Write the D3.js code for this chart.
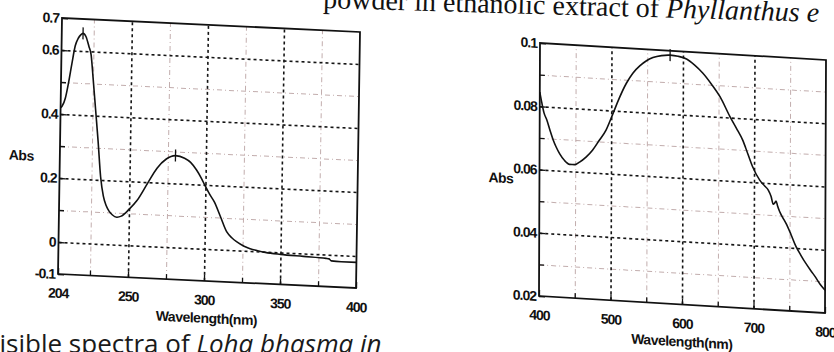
<!DOCTYPE html>
<html>
<head>
<meta charset="utf-8">
<script src="https://cdn.jsdelivr.net/npm/d3@7"></script>
<style>
  body { margin: 0; background: #fff; }
  svg { display: block; }
  .axis text { font-family: "Liberation Sans", Arial, sans-serif; font-weight: bold; font-size: 14px; letter-spacing: -1px; fill: #111; }
  .axis path { display: none; }
  .axis line { stroke: #111; stroke-width: 1.3; }
  .grid path { display: none; }
  .grid.major line { stroke: #151515; stroke-width: 1.6; stroke-dasharray: 3,3; }
  .grid.minor line { stroke: #c2adad; stroke-width: 1; stroke-dasharray: 5,3,1,3; }
  .title { font-family: "Liberation Sans", Arial, sans-serif; font-weight: bold; font-size: 14px; letter-spacing: -0.5px; fill: #111; }
</style>
</head>
<body>
<svg width="834" height="352"></svg>
<script>
// UV spectrum (left)
const uvWavelength = [204, 205, 207, 209, 211, 213, 215, 216.5, 218, 220, 222, 223.5, 225, 227, 229, 231, 233, 235, 237, 239, 242, 245, 250, 255, 262, 268, 274, 280, 286, 290, 294, 297, 300, 303, 306, 310, 314.5, 318, 321, 326, 330, 335, 340, 350, 365, 380, 382, 383.5, 390, 400];
const uvAbs = [0.42, 0.425, 0.45, 0.5, 0.56, 0.615, 0.64, 0.65, 0.655, 0.645, 0.615, 0.59, 0.52, 0.42, 0.32, 0.21, 0.15, 0.12, 0.103, 0.093, 0.086, 0.09, 0.112, 0.14, 0.197, 0.245, 0.275, 0.287, 0.28, 0.268, 0.245, 0.222, 0.195, 0.17, 0.148, 0.105, 0.056, 0.038, 0.027, 0.014, 0.007, 0.002, -0.002, -0.006, -0.009, -0.012, -0.013, -0.019, -0.02, -0.02];
const uvPeaks = [218, 280];
const uvXTicks = [204, 250, 300, 350, 400];
const uvXMinor = [225, 275, 325, 375];
const uvXGrid = [250, 300, 350];
const uvYTicks = [-0.1, 0, 0.2, 0.4, 0.6, 0.7];
const uvYMinor = [0.1, 0.3, 0.5];
const uvYGrid = [0, 0.2, 0.4, 0.6];

// visible spectrum (right)
const visWavelength = [400, 403, 406, 410, 415, 419, 423, 428, 435, 442, 449, 456, 465, 474, 483, 493, 502, 511, 521, 530, 540, 549, 558, 570, 582, 593, 605, 616, 628, 640, 652, 666, 675, 684, 691, 698, 708, 715, 720, 724, 727, 729, 731, 733, 736, 740, 745, 752, 759, 766, 773, 780, 787, 793, 800];
const visAbs = [0.0845, 0.081, 0.078, 0.0758, 0.0722, 0.0696, 0.0675, 0.0654, 0.0633, 0.0622, 0.0622, 0.0631, 0.0648, 0.0671, 0.0702, 0.0738, 0.0788, 0.084, 0.0889, 0.0922, 0.0947, 0.0964, 0.0975, 0.0983, 0.0986, 0.0984, 0.0977, 0.096, 0.0935, 0.0902, 0.0864, 0.0803, 0.0768, 0.0731, 0.069, 0.0649, 0.0608, 0.059, 0.0578, 0.0558, 0.0534, 0.0538, 0.0545, 0.053, 0.0512, 0.0495, 0.0476, 0.0442, 0.0405, 0.0378, 0.0353, 0.0331, 0.031, 0.029, 0.0272];
const visPeaks = [582];
const visXTicks = [400, 500, 600, 700, 800];
const visXMinor = [450, 550, 650, 750];
const visXGrid = [500, 600, 700];
const visYTicks = [0.02, 0.04, 0.06, 0.08, 0.1];
const visYMinor = [0.03, 0.05, 0.07, 0.09];
const visYGrid = [0.04, 0.06, 0.08];

const svg = d3.select("svg");

// scanned page text around the figure
svg.append("text")
  .attr("x", 323).attr("y", 8)
  .attr("transform", "rotate(1.6, 323, 8)")
  .style("font-family", "'Liberation Serif', 'Times New Roman', serif")
  .style("font-size", "28px").style("fill", "#111")
  .text("powder in ethanolic extract of ")
  .append("tspan").style("font-style", "italic").text(" Phyllanthus e");

svg.append("text")
  .attr("x", -16).attr("y", 353)
  .style("font-family", "'Open Sans', sans-serif")
  .style("font-size", "26px").style("fill", "#1a1a1a")
  .text("Visible spectra of ")
  .append("tspan").style("font-style", "italic").text("Loha bhasma in");

const drawChart = (o) => {
  const g = svg.append("g").attr("transform", `matrix(1,${o.skewY},${o.skewX},1,${o.left},${o.top})`);
  const x = d3.scaleLinear().domain(o.xDomain).range([0, o.w]);
  const y = d3.scaleLinear().domain(o.yDomain).range([o.h, 0]);

  // grids
  g.append("g").attr("class", "grid minor").attr("transform", `translate(0,${o.h})`)
    .call(d3.axisBottom(x).tickValues(o.xMinor).tickSize(-o.h).tickFormat(""));
  g.append("g").attr("class", "grid minor")
    .call(d3.axisLeft(y).tickValues(o.yMinor).tickSize(-o.w).tickFormat(""));
  g.append("g").attr("class", "grid major").attr("transform", `translate(0,${o.h})`)
    .call(d3.axisBottom(x).tickValues(o.xGrid).tickSize(-o.h).tickFormat(""));
  g.append("g").attr("class", "grid major")
    .call(d3.axisLeft(y).tickValues(o.yGrid).tickSize(-o.w).tickFormat(""));

  // ticks pointing inside
  g.append("g").attr("class", "axis").attr("transform", `translate(0,${o.h})`)
    .call(d3.axisBottom(x).tickValues(o.xTicks).tickSizeInner(-6).tickSizeOuter(0).tickPadding(14));
  g.append("g").attr("class", "axis").attr("transform", `translate(0,${o.h})`)
    .call(d3.axisBottom(x).tickValues(o.xMinor).tickSizeInner(-5).tickSizeOuter(0).tickFormat(""));
  g.append("g").attr("class", "axis")
    .call(d3.axisLeft(y).tickValues(o.yTicks).tickSizeInner(-6).tickSizeOuter(0).tickPadding(3).tickFormat(d => String(d)));
  g.append("g").attr("class", "axis")
    .call(d3.axisLeft(y).tickValues(o.yMinor).tickSizeInner(-5).tickSizeOuter(0).tickFormat(""));

  g.append("rect").attr("width", o.w).attr("height", o.h)
    .attr("fill", "none").attr("stroke", "#111").attr("stroke-width", 1.8);

  const pts = o.wl.map((w, i) => [w, o.abs[i]]);
  g.append("path").datum(pts)
    .attr("fill", "none").attr("stroke", "#111").attr("stroke-width", 1.6)
    .attr("d", d3.line().x(d => x(d[0])).y(d => y(d[1])).curve(d3.curveMonotoneX));

  // peak markers
  g.selectAll(".peak").data(o.peaks).enter().append("line")
    .attr("x1", d => x(d)).attr("x2", d => x(d))
    .attr("y1", d => y(o.abs[o.wl.indexOf(d)]) - 6)
    .attr("y2", d => y(o.abs[o.wl.indexOf(d)]) + 6)
    .attr("stroke", "#111").attr("stroke-width", 1.3);

  g.append("text").attr("class", "title").attr("x", -51).attr("y", o.absY).text("Abs");
  g.append("text").attr("class", "title").attr("x", o.w / 2).attr("y", o.h + 42)
    .attr("text-anchor", "middle").text("Wavelength(nm)");
};

drawChart({
  left: 62, top: 18, w: 298, h: 256, skewY: 0.047, skewX: -0.0156,
  xDomain: [204, 400], yDomain: [-0.1, 0.7],
  wl: uvWavelength, abs: uvAbs, peaks: uvPeaks,
  xTicks: uvXTicks, xMinor: uvXMinor, xGrid: uvXGrid,
  yTicks: uvYTicks, yMinor: uvYMinor, yGrid: uvYGrid,
  absY: 144
});

drawChart({
  left: 540, top: 43, w: 286, h: 253, skewY: 0.0594, skewX: -0.004,
  xDomain: [400, 800], yDomain: [0.02, 0.1],
  wl: visWavelength, abs: visAbs, peaks: visPeaks,
  xTicks: visXTicks, xMinor: visXMinor, xGrid: visXGrid,
  yTicks: visYTicks, yMinor: visYMinor, yGrid: visYGrid,
  absY: 142
});
</script>
</body>
</html>
